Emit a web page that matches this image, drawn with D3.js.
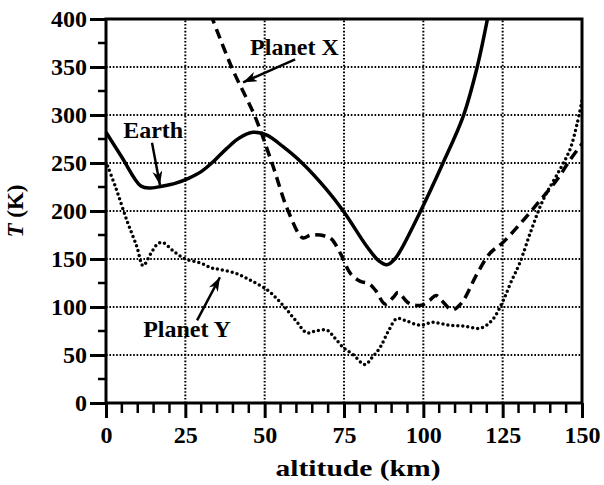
<!DOCTYPE html>
<html>
<head>
<meta charset="utf-8">
<script src="https://cdn.jsdelivr.net/npm/d3@7"></script>
<style>
  body { margin: 0; background: #fff; }
  svg text { font-family: "Liberation Serif", "Times New Roman", serif; font-weight: bold; fill: #000; }
</style>
</head>
<body>
<div id="chart"></div>
<script>
// temperature profiles: [altitude km, T K]
const earth = [[0,282],[5,256],[11,226],[14,224],[18,226],[22,229],[26,234],[30,241],[34,252],[38,265],
  [42,276],[46.3,282],[50.7,279],[55.8,267],[61.8,250],[69.6,222],[75,199],[82.2,163],[86,148],[88.5,144],
  [91,150],[93,160],[99,199],[106.2,250],[112.5,298],[116.9,349],[120.5,405]];
const planetX = [[33,405],[39.7,349],[47,298],[52.3,250],[57.4,200],[62,172],[64.5,175],[69,174],[71,171],
  [74,155],[77,135],[80,127],[83,124],[85,117],[88,103],[90.5,110],[92,115],[95,105],[97,102],[99.5,102],
  [102,107],[104,112],[106,106],[109,97],[112,104],[117,135],[121,156],[125,167],[131.4,190],[136.8,211],
  [142,232],[146.2,253],[150,270]];
const planetY = [[0.5,247],[3,225],[6.6,190],[9.7,163],[11.7,143],[14,155],[16.4,166],[18,167],[21,159],
  [25,150],[29.6,146],[33,141],[36,139],[41,135],[46,127],[50.7,118],[54,108],[57,97],[60,85],[63.3,73],
  [66,75],[69.6,76],[72,68],[74.7,58],[78,50],[81.6,40],[84,48],[86.4,58],[89,75],[91.7,88],[95,85],
  [99,81],[103,84],[108,81],[113,80],[118,78],[121.6,86],[124.8,104],[127.5,125],[130.4,146],[134,180],
  [137.8,212],[143,243],[146.2,264],[148.4,290],[150,315]];

const xTicks = [0, 25, 50, 75, 100, 125, 150];
const yTicks = [0, 50, 100, 150, 200, 250, 300, 350, 400];
const xMinor = d3.range(0, 151, 5).filter(v => v % 25 !== 0);
const yMinor = d3.range(25, 400, 50);

// labels: text anchor point and arrow tail/tip, in data units
const labels = [
  { name: "Earth", at: [5.4, 276], from: [14.5, 271], to: [17, 227] },
  { name: "Planet X", at: [45.4, 362], from: [59.6, 358], to: [43.2, 334] },
  { name: "Planet Y", at: [11.7, 69], from: [28.7, 86], to: [35.9, 131] }
];

const width = 604, height = 485;
const margin = { top: 19, right: 22, bottom: 82, left: 106 };

const svg = d3.select("#chart").append("svg")
  .attr("width", width)
  .attr("height", height);

const x = d3.scaleLinear().domain([0, 150]).range([margin.left, width - margin.right]);
const y = d3.scaleLinear().domain([0, 400]).range([height - margin.bottom, margin.top]);

const defs = svg.append("defs");
defs.append("clipPath").attr("id", "plot")
  .append("rect")
  .attr("x", x(0)).attr("y", y(400))
  .attr("width", x(150) - x(0)).attr("height", y(0) - y(400));
defs.append("marker")
  .attr("id", "head")
  .attr("viewBox", "0 0 14 10")
  .attr("refX", 14).attr("refY", 5)
  .attr("markerWidth", 14).attr("markerHeight", 10)
  .attr("markerUnits", "userSpaceOnUse")
  .attr("orient", "auto")
  .append("path")
  .attr("d", "M0,0L14,5L0,10L4,5Z")
  .attr("fill", "#000");

// dotted grid
const grid = svg.append("g").attr("stroke", "#000").attr("stroke-width", 2).attr("stroke-dasharray", "1.6,1.8");
grid.selectAll(".vg").data(xTicks.slice(1, -1)).join("line")
  .attr("x1", d => x(d)).attr("x2", d => x(d))
  .attr("y1", y(0)).attr("y2", y(400));
grid.selectAll(".hg").data(yTicks.slice(1, -1)).join("line")
  .attr("x1", x(0)).attr("x2", x(150))
  .attr("y1", d => y(d)).attr("y2", d => y(d));

// axes
const xAxis = svg.append("g")
  .attr("transform", `translate(0,${y(0)})`)
  .call(d3.axisBottom(x).tickValues(xTicks).tickSize(15).tickPadding(8));
const yAxis = svg.append("g")
  .attr("transform", `translate(${x(0)},0)`)
  .call(d3.axisLeft(y).tickValues(yTicks).tickSize(16).tickPadding(3));
[xAxis, yAxis].forEach(g => {
  g.select(".domain").remove();
  g.selectAll(".tick line").attr("stroke", "#000").attr("stroke-width", 3);
  g.selectAll(".tick text")
    .attr("font-family", "Liberation Serif")
    .attr("font-weight", "bold")
    .attr("font-size", 24);
});

svg.append("g").selectAll("line").data(xMinor).join("line")
  .attr("x1", d => x(d)).attr("x2", d => x(d))
  .attr("y1", y(0)).attr("y2", y(0) + 10)
  .attr("stroke", "#000").attr("stroke-width", 2.5);
svg.append("g").selectAll("line").data(yMinor).join("line")
  .attr("x1", x(0) - 8).attr("x2", x(0))
  .attr("y1", d => y(d)).attr("y2", d => y(d))
  .attr("stroke", "#000").attr("stroke-width", 2.5);

// frame
svg.append("rect")
  .attr("x", x(0)).attr("y", y(400))
  .attr("width", x(150) - x(0)).attr("height", y(0) - y(400))
  .attr("fill", "none").attr("stroke", "#000").attr("stroke-width", 3);

// curves
const line = d3.line().x(d => x(d[0])).y(d => y(d[1])).curve(d3.curveCatmullRom);
const curves = svg.append("g").attr("clip-path", "url(#plot)").attr("fill", "none").attr("stroke", "#000");
curves.append("path").datum(earth).attr("d", line).attr("stroke-width", 3.5);
curves.append("path").datum(planetX).attr("d", line).attr("stroke-width", 3.5).attr("stroke-dasharray", "10,6");
curves.append("path").datum(planetY).attr("d", line).attr("stroke-width", 3.5)
  .attr("stroke-linecap", "round").attr("stroke-dasharray", "0,5");

// labels and arrows
const ann = svg.append("g");
labels.forEach(l => {
  ann.append("text")
    .attr("x", x(l.at[0])).attr("y", y(l.at[1]))
    .attr("font-size", 24)
    .text(l.name);
  ann.append("line")
    .attr("x1", x(l.from[0])).attr("y1", y(l.from[1]))
    .attr("x2", x(l.to[0])).attr("y2", y(l.to[1]))
    .attr("stroke", "#000").attr("stroke-width", 2.5)
    .attr("marker-end", "url(#head)");
});

// axis titles
svg.append("text")
  .attr("x", 358).attr("y", 476)
  .attr("text-anchor", "middle")
  .attr("font-size", 24)
  .attr("textLength", 165)
  .attr("lengthAdjust", "spacingAndGlyphs")
  .text("altitude (km)");
const yt = svg.append("text")
  .attr("transform", `translate(23,211) rotate(-90)`)
  .attr("text-anchor", "middle")
  .attr("font-size", 23);
yt.append("tspan").attr("font-style", "italic").text("T");
yt.append("tspan").text(" (K)");
</script>
</body>
</html>
